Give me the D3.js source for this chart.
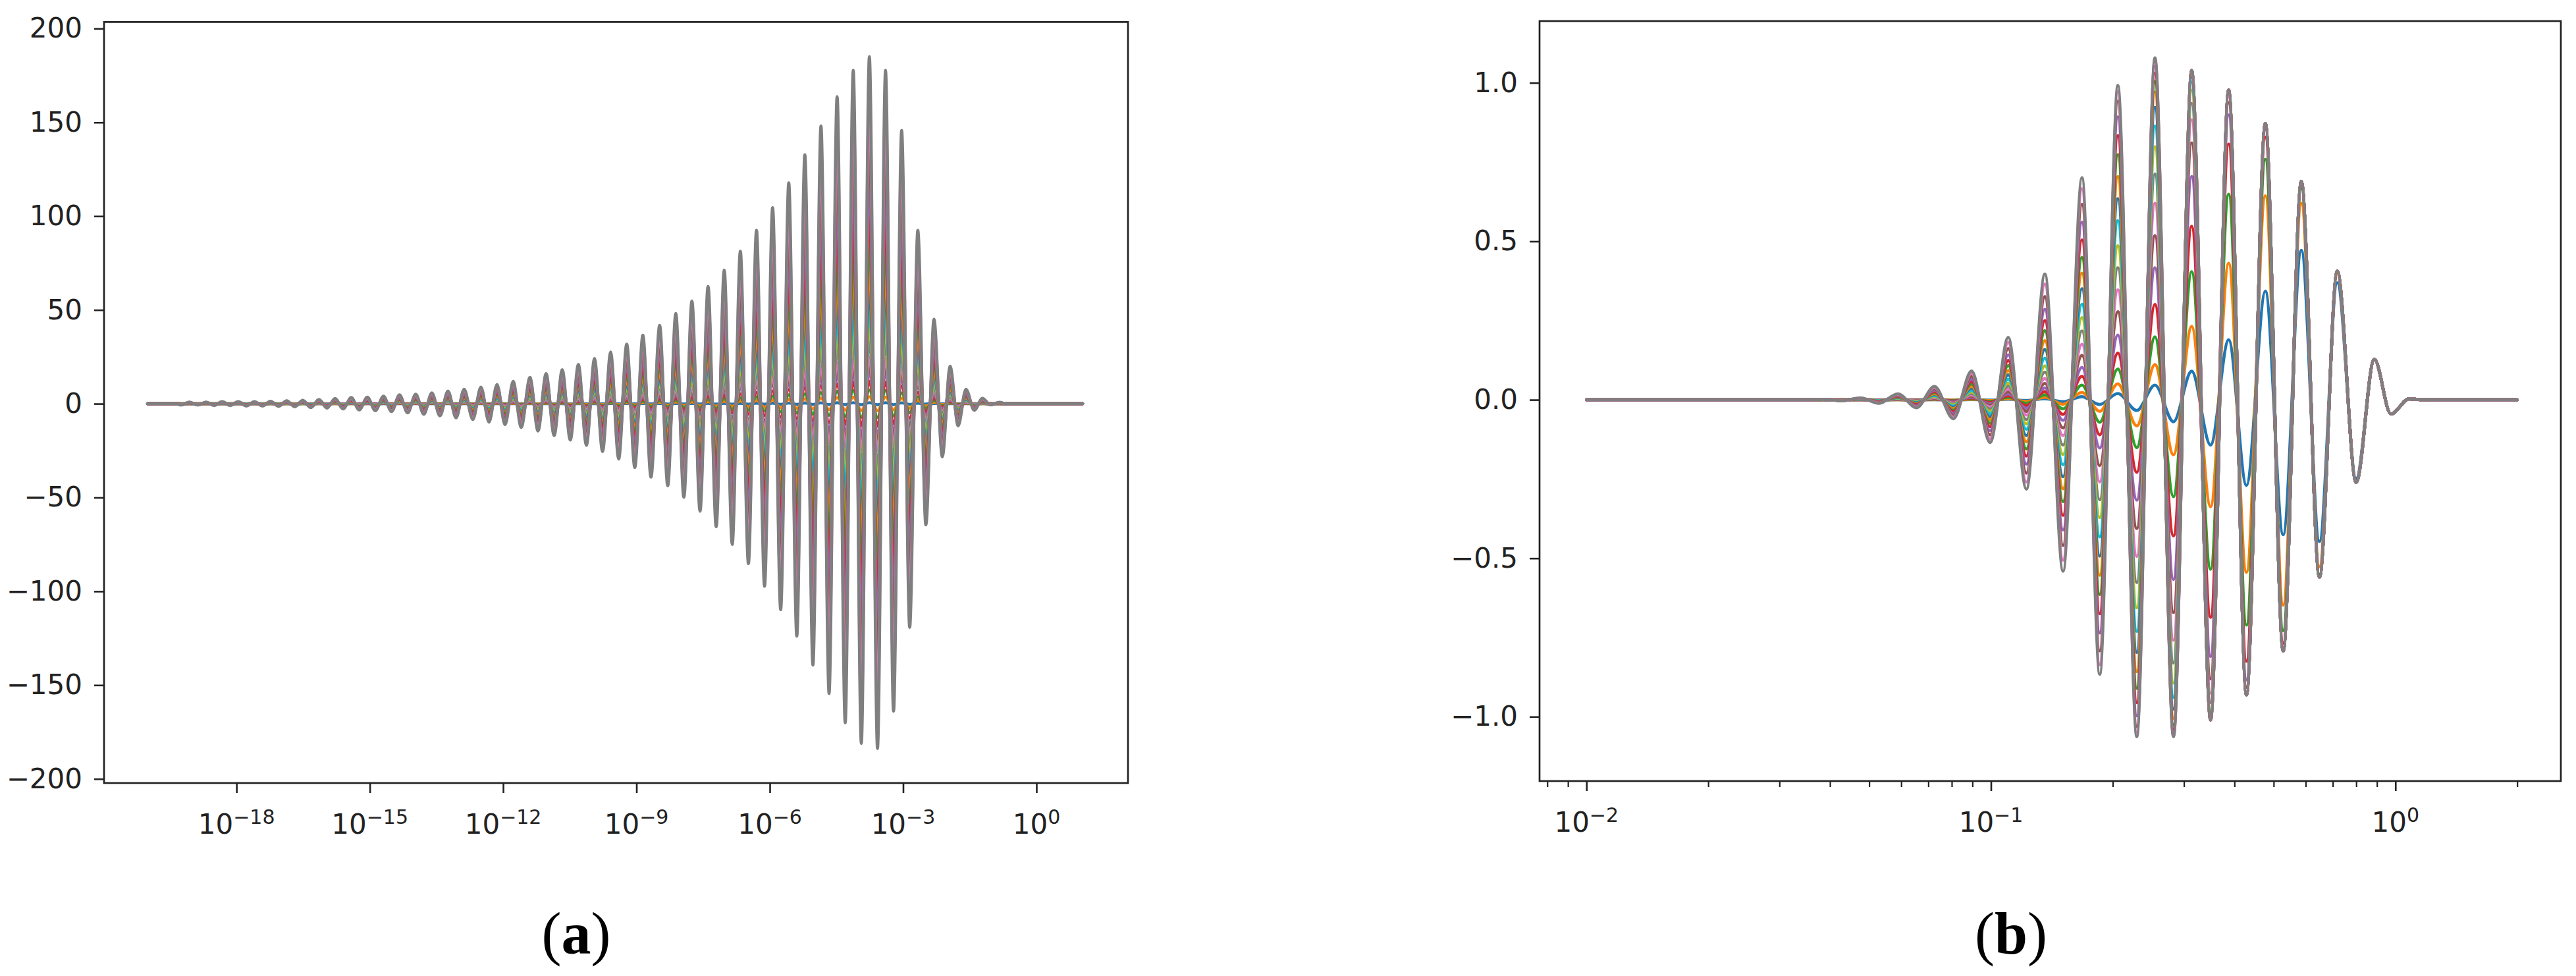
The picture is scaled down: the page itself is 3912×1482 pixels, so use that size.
<!DOCTYPE html>
<html><head><meta charset="utf-8">
<script src="https://cdn.jsdelivr.net/npm/d3@7"></script>
<style>body{margin:0;background:#fff}</style>
</head><body>
<svg id="chart" width="3912" height="1482"></svg>
<script>
// ================= DATA =================
const seriesColors = ["#1f77b4","#ff7f0e","#2ca02c","#d62728","#9467bd","#8c564b","#e377c2","#7f7f7f","#bcbd22","#17becf"];

// Panel (a): outer curve, [log10(x), value] at flat ends and at every extremum
const aPoints = [[-20,0],[-19.35,0],
[-19.245,-0.7],[-19.063,0.9],[-18.867,-0.7],[-18.685,0.9],[-18.504,-0.9],[-18.322,1.1],[-18.141,-0.9],[-17.960,1.1],
[-17.778,-1.2],[-17.597,1.1],[-17.415,-1.2],[-17.234,1.3],[-17.052,-1.4],[-16.870,1.6],[-16.689,-1.6],[-16.507,1.8],
[-16.327,-2.1],[-16.144,2.3],[-15.964,-2.3],[-15.781,2.8],[-15.601,-2.8],[-15.418,3.3],[-15.238,-3.3],[-15.055,3.5],
[-14.875,-3.7],[-14.692,4.0],[-14.512,-4.2],[-14.331,4.7],[-14.149,-4.9],[-13.967,5.1],[-13.785,-5.6],[-13.604,5.8],
[-13.422,-6.5],[-13.241,6.8],[-13.059,-7.5],[-12.878,7.7],[-12.681,-8.4],[-12.500,8.9],[-12.318,-9.8],[-12.137,10.3],
[-11.956,-11.2],[-11.774,11.9],[-11.593,-12.6],[-11.396,14.0],[-11.215,-14.5],[-11.033,16.1],[-10.852,-17.0],[-10.670,18.2],
[-10.489,-19.4],[-10.307,21.0],[-10.126,-22.2],[-9.944,24.1],[-9.763,-25.5],[-9.581,27.6],[-9.400,-29.5],[-9.219,31.8],
[-9.037,-34.0],[-8.856,36.5],[-8.673,-39.1],[-8.478,41.8],[-8.296,-43.7],[-8.115,48.1],[-7.933,-49.9],[-7.752,54.8],
[-7.569,-57.3],[-7.389,62.6],[-7.206,-65.6],[-7.025,71.3],[-6.845,-75.0],[-6.662,81.3],[-6.481,-85.2],[-6.299,92.4],
[-6.118,-97.3],[-5.936,104.5],[-5.755,-109.8],[-5.573,117.8],[-5.392,-123.9],[-5.211,132.7],[-5.029,-139.3],[-4.848,148.1],
[-4.666,-154.5],[-4.485,163.7],[-4.303,-170.1],[-4.122,177.7],[-3.940,-181.1],[-3.759,185.0],[-3.576,-183.8],[-3.396,177.7],
[-3.215,-163.9],[-3.033,145.7],[-2.852,-119.2],[-2.669,92.4],[-2.488,-64.6],[-2.306,45.0],[-2.118,-28.3],[-1.943,20.0],
[-1.762,-11.8],[-1.586,7.7],[-1.399,-3.5],[-1.215,2.9],[-1.036,-0.6],[-0.830,0.8],
[-0.70,0],[1.04,0]];
// Panel (a): relative amplitude of each plotted series (read at the tallest lobe)
const aGain = [0.003,0.02,0.04,0.065,0.094,0.115,0.135,0.18,0.23,0.28,0.34,0.40,0.48,0.57,0.67,0.78,0.90,1.0];
const aYTicks = [-200,-150,-100,-50,0,50,100,150,200];
const aXTickExp = [-18,-15,-12,-9,-6,-3,0];
const aXDomainExp = [-20.98, 2.06];
const aYDomain = [-202.2, 203.5];

// Panel (b): outer curve, [log10(x), value]
const bPoints = [[-2,0],[-1.46,0],
[-1.4137,0.001],[-1.3681,-0.003],[-1.3225,0.006],[-1.2764,-0.011],[-1.2301,0.019],[-1.1840,-0.025],
[-1.1396,0.042],[-1.0928,-0.060],[-1.0479,0.091],[-1.0021,-0.135],[-0.9572,0.197],[-0.9124,-0.282],
[-0.8666,0.397],[-0.8217,-0.541],[-0.7749,0.701],[-0.7310,-0.866],[-0.6862,0.992],[-0.6394,-1.063],
[-0.5945,1.079],[-0.5487,-1.063],[-0.5037,1.039],[-0.4570,-1.010],[-0.4122,0.977],[-0.3683,-0.931],
[-0.3215,0.872],[-0.2775,-0.792],[-0.2326,0.689],[-0.1878,-0.560],[-0.1438,0.406],[-0.0971,-0.260],
[-0.0521,0.128],[-0.0111,-0.045],[0.0339,0.003],[0.07,0],[0.301,0]];
// Panel (b): relative amplitude of each series, read at the peaks P3..P12
const bGainAnchorExp = [-0.8666,-0.7749,-0.6862,-0.5945,-0.5037,-0.4122,-0.3215,-0.2326,-0.1438,-0.0521];
const bGain = [
 [0.008,0.014,0.020,0.043,0.087,0.194,0.393,0.685,0.91,1],
 [0.020,0.033,0.051,0.103,0.223,0.441,0.738,0.90,0.98,1],
 [0.040,0.066,0.098,0.184,0.389,0.664,0.87,0.97,1,1],
 [0.065,0.106,0.149,0.279,0.527,0.826,0.95,0.99,1,1],
 [0.095,0.146,0.206,0.386,0.678,0.92,0.98,1,1,1],
 [0.13,0.20,0.28,0.48,0.78,0.96,0.99,1,1,1],
 [0.17,0.25,0.35,0.575,0.85,0.98,1,1,1,1],
 [0.22,0.31,0.42,0.66,0.90,0.99,1,1,1,1],
 [0.27,0.37,0.49,0.74,0.94,1,1,1,1,1],
 [0.33,0.43,0.57,0.80,0.965,1,1,1,1,1],
 [0.40,0.50,0.64,0.855,0.98,1,1,1,1,1],
 [0.47,0.57,0.71,0.90,0.99,1,1,1,1,1],
 [0.55,0.64,0.78,0.93,1,1,1,1,1,1],
 [0.63,0.72,0.84,0.955,1,1,1,1,1,1],
 [0.72,0.80,0.90,0.975,1,1,1,1,1,1],
 [0.82,0.88,0.95,0.99,1,1,1,1,1,1],
 [0.92,0.95,0.98,0.997,1,1,1,1,1,1],
 [1,1,1,1,1,1,1,1,1,1]];
const bYTicks = [-1.0,-0.5,0.0,0.5,1.0];
const bXTickExp = [-2,-1,0];
const bXDomainExp = [-2.116, 0.409];
const bYDomain = [-1.203, 1.195];

const captions = ["a","b"];

// ================= DRAW =================
const svg = d3.select("#chart");
svg.append("rect").attr("width",3912).attr("height",1482).attr("fill","#fff");

const FONT = "'DejaVu Sans', sans-serif";
const minus = s => s.replace(/-/g, "\u2212");

function drawPanel(cfg) {
  const x = d3.scaleLog().domain(cfg.xDom.map(e => Math.pow(10, e))).range([cfg.left, cfg.right]);
  const y = d3.scaleLinear().domain(cfg.yDom).range([cfg.bottom, cfg.top]);
  const g = svg.append("g");

  // lines
  const line = d3.line().x(d => x(Math.pow(10, d[0]))).y(d => y(d[1])).curve(d3.curveMonotoneX);
  const lines = g.append("g").attr("fill","none").attr("stroke-width",4.6)
      .attr("stroke-linejoin","round").attr("stroke-linecap","round");
  for (let k = 0; k < cfg.nSeries; k++) {
    const pts = cfg.points.map(p => [p[0], p[1] * cfg.gain(k, p[0])]);
    lines.append("path").attr("d", line(pts)).attr("stroke", seriesColors[k % 10]);
  }

  // y axis
  const yAx = g.append("g").attr("transform", `translate(${cfg.left},0)`)
    .call(d3.axisLeft(y).tickValues(cfg.yTicks).tickSize(15).tickPadding(18).tickFormat(cfg.yFmt));
  yAx.select(".domain").remove();
  yAx.selectAll("line").attr("stroke","#222").attr("stroke-width",2.6);
  yAx.selectAll("text").attr("font-family",FONT).attr("font-size",42).attr("fill","#222");

  // x axis: major ticks
  const majors = cfg.xTickExp.map(e => Math.pow(10, e));
  const xAx = g.append("g").attr("transform", `translate(0,${cfg.bottom})`)
    .call(d3.axisBottom(x).tickValues(majors).tickSize(15).tickFormat(""));
  xAx.select(".domain").remove();
  xAx.selectAll("line").attr("stroke","#222").attr("stroke-width",2.6);
  if (cfg.minor) {
    const minors = x.ticks().filter(v => !majors.some(m => Math.abs(m - v) / m < 1e-6));
    const mAx = g.append("g").attr("transform", `translate(0,${cfg.bottom})`)
      .call(d3.axisBottom(x).tickValues(minors).tickSize(9).tickFormat(""));
    mAx.select(".domain").remove();
    mAx.selectAll("line").attr("stroke","#222").attr("stroke-width",2.2);
  }
  // x tick labels 10^n
  const lab = g.append("g").attr("font-family",FONT).attr("fill","#222");
  cfg.xTickExp.forEach(e => {
    const t = lab.append("text").attr("x", x(Math.pow(10, e))).attr("y", cfg.bottom + 77)
      .attr("text-anchor","middle").attr("font-size",42);
    t.append("tspan").text("10");
    t.append("tspan").attr("dy",-15).attr("font-size",30).text(minus(String(e)));
  });

  // spines
  g.append("rect").attr("x",cfg.left).attr("y",cfg.top)
    .attr("width",cfg.right-cfg.left).attr("height",cfg.bottom-cfg.top)
    .attr("fill","none").attr("stroke","#222").attr("stroke-width",2.7);

  // caption
  const c = svg.append("text").attr("x",cfg.capX).attr("y",1448).attr("text-anchor","middle")
    .attr("font-family","'Liberation Serif','Times New Roman',serif").attr("font-size",90).attr("fill","#000");
  c.append("tspan").text("(");
  c.append("tspan").attr("font-weight","bold").text(cfg.caption);
  c.append("tspan").text(")");
}

drawPanel({
  left:158, right:1713, top:33.4, bottom:1189, capX:875, caption:captions[0],
  xDom:aXDomainExp, yDom:aYDomain, points:aPoints, nSeries:aGain.length,
  gain:(k, e) => aGain[k],
  yTicks:aYTicks, yFmt:d => minus(String(d)), xTickExp:aXTickExp, minor:false
});

const bGainScales = bGain.map(row => d3.scaleLinear().domain(bGainAnchorExp).range(row).clamp(true));
drawPanel({
  left:2338, right:3889, top:32, bottom:1186, capX:3054, caption:captions[1],
  xDom:bXDomainExp, yDom:bYDomain, points:bPoints, nSeries:bGain.length,
  gain:(k, e) => bGainScales[k](e),
  yTicks:bYTicks, yFmt:d => minus(d3.format(".1f")(d)), xTickExp:bXTickExp, minor:true
});
</script>
</body></html>
